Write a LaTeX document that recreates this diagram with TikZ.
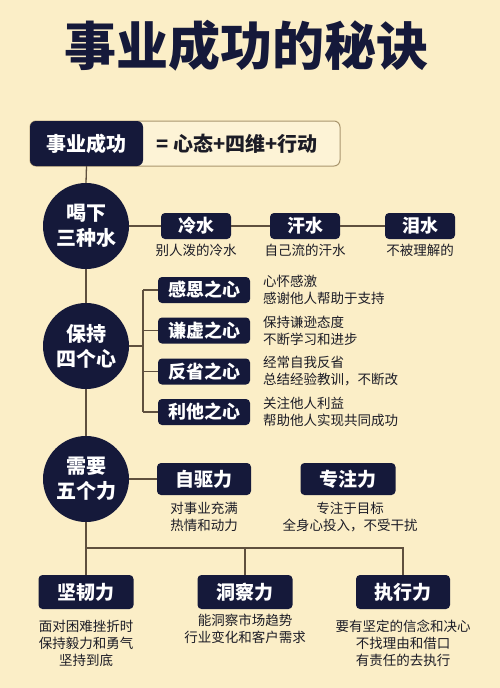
\documentclass[tikz,border=0pt]{standalone}
\usepackage{fontspec}
\setmainfont{Noto Sans CJK SC}
\definecolor{bg}{RGB}{251,238,199}
\definecolor{navy}{RGB}{21,25,58}
\definecolor{ink}{RGB}{28,28,38}
\definecolor{linec}{RGB}{95,80,62}
\definecolor{boxbg}{RGB}{253,243,214}
\definecolor{boxline}{RGB}{170,150,110}
\tikzset{
  darkbox/.style={fill=navy, rounded corners=4pt, text=white, inner sep=0pt,
    font=\bfseries\fontsize{18}{18}\selectfont},
  circ/.style={circle, fill=navy, minimum size=86pt, text=white, align=center, inner sep=0pt,
    font=\bfseries\fontsize{20}{25}\selectfont},
  desc/.style={text=ink, inner sep=0pt, font=\fontsize{13.5}{17}\selectfont},
  conn/.style={draw=linec, line width=1.3pt}
}
\begin{document}
\begin{tikzpicture}[x=1pt,y=-1pt]
\fill[bg] (0,0) rectangle (500,688);
\useasboundingbox (0,0) rectangle (500,688);
% title
\node[text=navy, font=\bfseries\fontsize{52}{52}\selectfont, inner sep=0pt] (title) at (246,46) {事业成功的秘诀};
% top formula box
\node[fill=boxbg, draw=boxline, line width=1pt, rounded corners=6pt, minimum width=310pt, minimum height=45pt, inner sep=0pt] (eq) at (185,143.5) {};
\node[darkbox, minimum width=113pt, minimum height=45pt, rounded corners=6pt, font=\bfseries\fontsize{20}{20}\selectfont] (top) at (86.5,143.5) {事业成功};
\node[text=ink, inner sep=0pt, font=\bfseries\fontsize{20}{20}\selectfont] (formula) at (237,143.5) {= 心态+四维+行动};
% circles
\node[circ] (c1) at (86,226) {喝下\\三种水};
\node[circ] (c2) at (86,346) {保持\\四个心};
\node[circ] (c3) at (86,479) {需要\\五个力};
% three waters
\node[darkbox, minimum width=70pt, minimum height=26pt] (w1) at (196,226) {冷水};
\node[darkbox, minimum width=70pt, minimum height=26pt] (w2) at (305,226) {汗水};
\node[darkbox, minimum width=70pt, minimum height=26pt] (w3) at (420,226) {泪水};
\node[desc] (wd1) at (196,250) {别人泼的冷水};
\node[desc] (wd2) at (305,250) {自己流的汗水};
\node[desc] (wd3) at (420,250) {不被理解的};
% four hearts
\node[darkbox, minimum width=92pt, minimum height=26pt] (h1) at (204,290) {感恩之心};
\node[darkbox, minimum width=92pt, minimum height=26pt] (h2) at (204,330.5) {谦虚之心};
\node[darkbox, minimum width=92pt, minimum height=26pt] (h3) at (204,371.5) {反省之心};
\node[darkbox, minimum width=92pt, minimum height=26pt] (h4) at (204,412) {利他之心};
\node[desc, anchor=west, align=left] (hd1) at (263,290) {心怀感激\\感谢他人帮助于支持};
\node[desc, anchor=west, align=left] (hd2) at (263,330.5) {保持谦逊态度\\不断学习和进步};
\node[desc, anchor=west, align=left] (hd3) at (263,371.5) {经常自我反省\\总结经验教训，不断改};
\node[desc, anchor=west, align=left] (hd4) at (263,412) {关注他人利益\\帮助他人实现共同成功};
% five forces
\node[darkbox, minimum width=94pt, minimum height=32pt, font=\bfseries\fontsize{19}{19}\selectfont] (f1) at (204,479) {自驱力};
\node[darkbox, minimum width=95pt, minimum height=32pt, font=\bfseries\fontsize{19}{19}\selectfont] (f2) at (348,479) {专注力};
\node[desc, align=center] (fd1) at (204,517) {对事业充满\\热情和动力};
\node[desc, align=center] (fd2) at (350,517) {专注于目标\\全身心投入，不受干扰};
\node[darkbox, minimum width=95pt, minimum height=34pt, font=\bfseries\fontsize{19}{19}\selectfont] (b1) at (86,592) {坚韧力};
\node[darkbox, minimum width=95pt, minimum height=34pt, font=\bfseries\fontsize{19}{19}\selectfont] (b2) at (245,592) {洞察力};
\node[darkbox, minimum width=94pt, minimum height=34pt, font=\bfseries\fontsize{19}{19}\selectfont] (b3) at (403,592) {执行力};
\node[desc, align=center] (bd1) at (86,643) {面对困难挫折时\\保持毅力和勇气\\坚持到底};
\node[desc, align=center] (bd2) at (245,629) {能洞察市场趋势\\行业变化和客户需求};
\node[desc, align=center] (bd3) at (403,643) {要有坚定的信念和决心\\不找理由和借口\\有责任的去执行};
% connectors
\draw[conn] (top.south) -- (c1.north);
\draw[conn] (c1.south) -- (c2.north);
\draw[conn] (c2.south) -- (c3.north);
\draw[conn] (c1.east) -- (w1.west);
\draw[conn] (w1.east) -- (w2.west);
\draw[conn] (w2.east) -- (w3.west);
\coordinate (j2) at (143,346);
\draw[conn] (c2.east) -- (j2);
\draw[conn] (h1.west -| j2) -- (h4.west -| j2);
\draw[conn] (h1.west -| j2) -- (h1.west);
\draw[conn] (h2.west -| j2) -- (h2.west);
\draw[conn] (h3.west -| j2) -- (h3.west);
\draw[conn] (h4.west -| j2) -- (h4.west);
\draw[conn] (c3.east) -- (f1.west);
\coordinate (jb) at (86,548);
\draw[conn] (c3.south) -- (b1.north);
\draw[conn] (jb) -- (jb -| b3.north) -- (b3.north);
\draw[conn] (jb -| b2.north) -- (b2.north);
\end{tikzpicture}
\end{document}
